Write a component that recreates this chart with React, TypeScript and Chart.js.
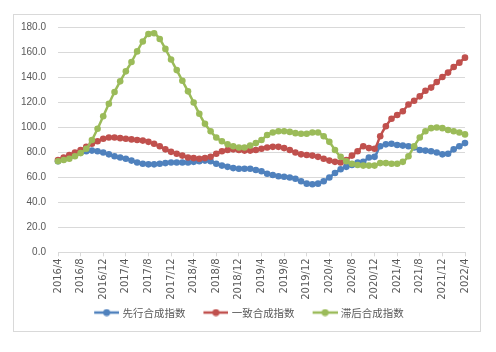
import React, { useEffect, useRef } from "react";
import { Chart, registerables } from "chart.js";
Chart.register(...registerables);

const categories = [
  "2016/4","2016/5","2016/6","2016/7","2016/8","2016/9","2016/10","2016/11","2016/12",
  "2017/1","2017/2","2017/3","2017/4","2017/5","2017/6","2017/7","2017/8","2017/9","2017/10","2017/11","2017/12",
  "2018/1","2018/2","2018/3","2018/4","2018/5","2018/6","2018/7","2018/8","2018/9","2018/10","2018/11","2018/12",
  "2019/1","2019/2","2019/3","2019/4","2019/5","2019/6","2019/7","2019/8","2019/9","2019/10","2019/11","2019/12",
  "2020/1","2020/2","2020/3","2020/4","2020/5","2020/6","2020/7","2020/8","2020/9","2020/10","2020/11","2020/12",
  "2021/1","2021/2","2021/3","2021/4","2021/5","2021/6","2021/7","2021/8","2021/9","2021/10","2021/11","2021/12",
  "2022/1","2022/2","2022/3","2022/4",
];

const leadingIndex = [
  73, 74.5, 76.5, 78.5, 80, 81, 81.5, 81, 80, 78.5,
  77, 76, 75, 73.5, 72, 71, 70.5, 70.5, 71, 71.5,
  72, 72, 72, 72, 72.5, 73, 73.5, 73, 71, 69.5,
  68.5, 67.5, 67, 67, 67, 66, 65, 63, 62, 61,
  60.5, 60, 59, 57, 55, 54.5, 55, 57, 60, 63.5,
  66.5, 68.5, 70, 72, 72.5, 76, 76.5, 85, 86.5, 87,
  86, 85.5, 85, 84, 82, 81.5, 81, 80, 78.5, 79,
  82.5, 85, 87.5,
];

const coincidentIndex = [
  74, 76, 78, 80, 82, 84.5, 87, 89, 91, 92,
  92, 91.5, 91, 90.5, 90, 89.5, 88.5, 87, 85, 82.5,
  80.5, 79, 77.5, 76, 75.5, 75, 75.5, 76.5, 79, 81,
  82, 82.5, 82, 81.5, 81.5, 82, 83, 84, 84.5, 84.5,
  83.5, 82, 80, 78.5, 78, 77.5, 76.5, 75, 73.5, 72.5,
  72, 74, 77.5, 81, 85, 83.5, 83, 93, 101, 107,
  110, 113, 118.5, 121.5, 125, 129.5, 132, 136.5, 140.5, 144,
  148.5, 152, 156,
];

const laggingIndex = [
  73, 74, 75, 77, 79.5, 83, 90, 99, 109, 119,
  128.5, 137, 145, 152.5, 161, 169, 175, 175.5, 171, 163,
  154.5, 146, 137.5, 129, 120, 111, 103, 97, 92, 89,
  86.5, 85, 84, 84, 85.5, 87.5, 90, 94, 96, 97,
  97, 96.5, 95.5, 95, 95, 96, 96, 93, 88.5, 82,
  76.5, 73, 71, 70, 69.5, 69.5, 69.5, 71.5, 71.5, 71,
  71, 72.5, 77, 85, 92, 97, 99.5, 100, 99.5, 98,
  97, 96, 94.5,
];

const seriesNames = ["先行合成指数", "一致合成指数", "滞后合成指数"];
const seriesColors = ["#4F81BD", "#C0504D", "#9BBB59"];
const yTicks = [0, 20, 40, 60, 80, 100, 120, 140, 160, 180];

function makeIcon(color: string) {
  const c = document.createElement("canvas");
  c.width = 40;
  c.height = 8;
  const g = c.getContext("2d")!;
  g.strokeStyle = color;
  g.lineWidth = 2.5;
  g.beginPath();
  g.moveTo(15, 4);
  g.lineTo(40, 4);
  g.stroke();
  g.fillStyle = color;
  g.beginPath();
  g.arc(27.5, 4, 3.5, 0, Math.PI * 2);
  g.fill();
  return c;
}

export default function App() {
  const ref = useRef<HTMLCanvasElement | null>(null);
  useEffect(() => {
    if (!ref.current) return;
    const icons = seriesColors.map(makeIcon);
    const all = [leadingIndex, coincidentIndex, laggingIndex];
    const chart = new Chart(ref.current, {
      type: "line",
      data: {
        labels: categories,
        datasets: all.map((d, i) => ({
          label: seriesNames[i],
          data: d,
          borderColor: seriesColors[i],
          backgroundColor: seriesColors[i],
          pointBackgroundColor: seriesColors[i],
          pointBorderColor: seriesColors[i],
          pointRadius: 3.3,
          pointBorderWidth: 0,
          borderWidth: 2.5,
          tension: 0.3,
          fill: false,
          order: 2 - i,
        })),
      },
      options: {
        animation: false,
        responsive: true,
        maintainAspectRatio: false,
        layout: { padding: { top: 12.7, right: 9, bottom: 3.2, left: 0 } },
        plugins: {
          tooltip: { enabled: false },
          legend: {
            position: "bottom",
            labels: {
              usePointStyle: true,
              pointStyleWidth: 36,
              padding: 5,
              color: "#595959",
              font: { family: "'Noto Sans CJK SC'", size: 10.5 },
              sort: (a: any, b: any) => a.datasetIndex - b.datasetIndex,
              generateLabels: (ch: any) => {
                const items = (Chart.defaults.plugins.legend.labels as any).generateLabels(ch);
                items.forEach((it: any) => {
                  it.pointStyle = icons[it.datasetIndex];
                });
                return items;
              },
            },
          },
        },
        scales: {
          x: {
            type: "category",
            offset: false,
            border: { display: true, color: "#d9d9d9", width: 1 },
            grid: {
              display: true,
              drawOnChartArea: false,
              drawTicks: true,
              tickLength: 4,
              tickColor: (ctx: any) => (ctx.index % 4 === 0 ? "#d9d9d9" : "rgba(0,0,0,0)"),
            },
            ticks: {
              autoSkip: false,
              maxRotation: 90,
              minRotation: 90,
              padding: 2,
              color: "#595959",
              font: { family: "'DejaVu Sans'", size: 10 },
              callback: (_v: any, i: number) => (i % 4 === 0 ? categories[i] : ""),
            },
            afterFit: (s: any) => {
              s.height = 50;
              s.paddingRight = 15;
              s.paddingLeft = 0;
            },
          },
          y: {
            min: yTicks[0],
            max: yTicks[yTicks.length - 1],
            border: { display: false },
            grid: { color: "#d9d9d9", drawTicks: false, lineWidth: 1 },
            ticks: {
              stepSize: 20,
              padding: 12,
              color: "#595959",
              font: { family: "'Liberation Sans'", size: 10 },
              callback: (v: any) => Number(v).toFixed(1),
            },
            afterFit: (s: any) => {
              s.width = 44;
              s.paddingTop = 0;
              s.paddingBottom = 0;
            },
          },
        },
      },
    });
    return () => chart.destroy();
  }, []);

  return (
    <div
      style={{
        position: "absolute",
        left: 13,
        top: 14,
        width: 468,
        height: 318,
        boxSizing: "border-box",
        border: "1px solid #d9d9d9",
        background: "#fff",
      }}
    >
      <div style={{ position: "relative", width: 466, height: 316 }}>
        <canvas ref={ref} />
      </div>
    </div>
  );
}
